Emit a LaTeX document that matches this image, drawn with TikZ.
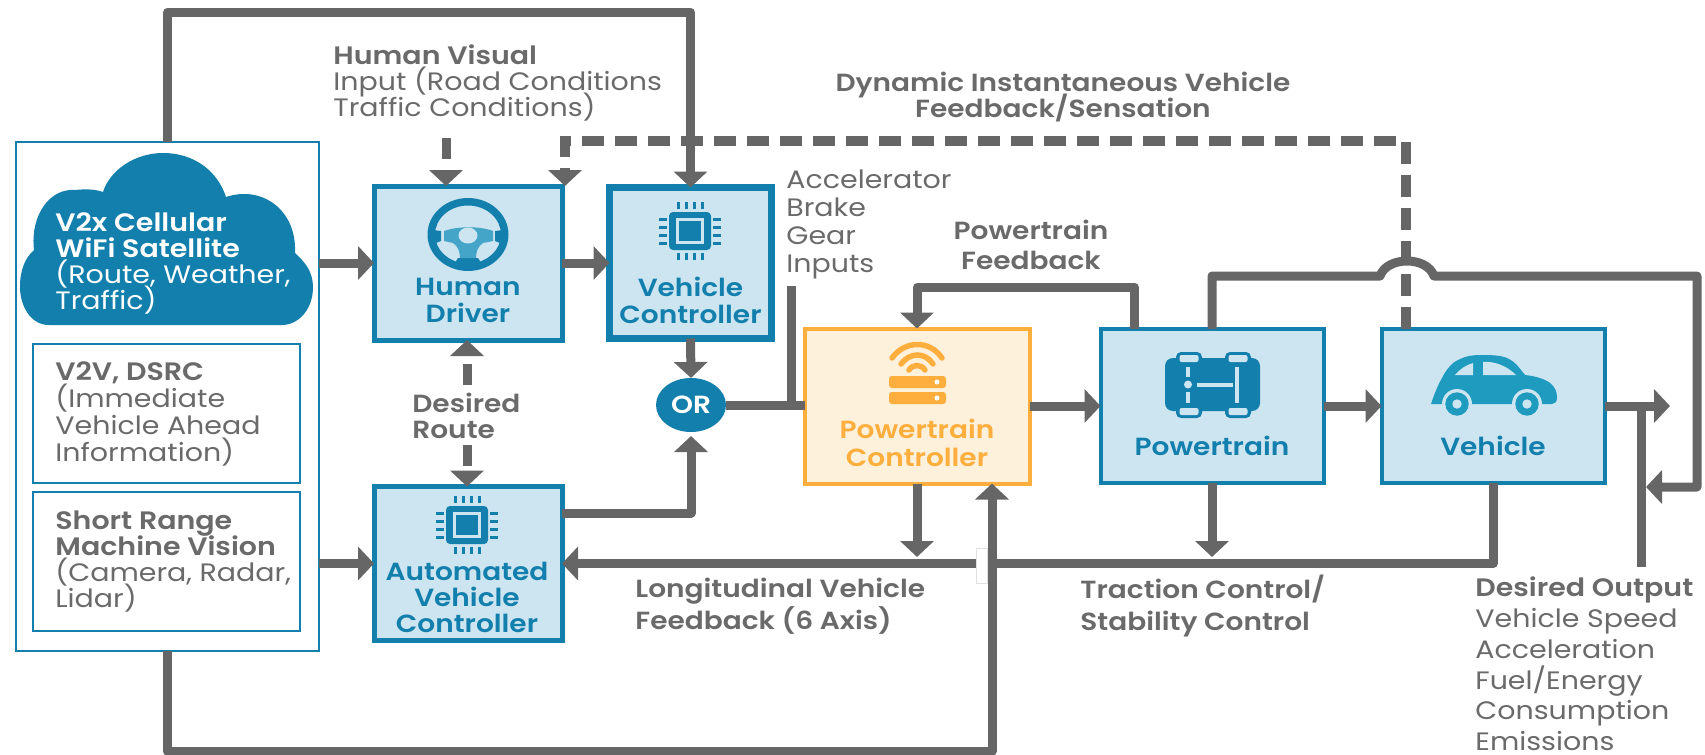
\documentclass[tikz,border=0pt]{standalone}
\usepackage{fontspec}
\setmainfont[BoldFont={Poppins SemiBold},FakeStretch=1.13]{Poppins}
\usetikzlibrary{arrows.meta,shapes.geometric,calc}
\definecolor{tblue}{HTML}{137FAD}
\definecolor{lblue}{HTML}{CDE5F1}
\definecolor{cblue}{HTML}{1F9BC0}
\definecolor{sblue}{HTML}{45A5C8}
\definecolor{torange}{HTML}{FDAE3C}
\definecolor{lorange}{HTML}{FDF1DC}
\definecolor{conn}{HTML}{666666}
\definecolor{txt}{HTML}{6A6A6A}
\newcommand{\ftsz}[2]{\fontsize{#1}{#2}\selectfont\lineskiplimit=-30pt\relax}
\tikzset{
  blk/.style={rectangle,draw=tblue,fill=lblue,inner sep=0pt,outer sep=0pt},
  orb/.style={rectangle,draw=torange,fill=lorange,line width=2pt,inner sep=0pt,outer sep=0pt},
  wbox/.style={rectangle,draw=tblue,fill=white,line width=1.25pt,inner sep=0pt,outer sep=0pt},
  wire/.style={draw=conn,line width=4.5pt,line join=round},
  arr/.style={wire,-{Triangle[length=8pt,width=16.5pt]}},
  stub/.style={arr,dash pattern=on 10.5pt off 30pt},
  dashwire/.style={arr,line width=5pt,line join=miter,dash pattern=on 11pt off 5.5pt},
  lab/.style={font=\ftsz{12.6}{13},text=txt,inner sep=0pt,align=left,anchor=west},
  blab/.style={font=\ftsz{12.4}{13.5}\bfseries,text=tblue,inner sep=0pt,align=center},
  chip/.pic={
    \fill[tblue,rounded corners=2pt] (-21,-19) rectangle (21,19);
    \fill[lblue] (-14,-13) rectangle (14,13);
    \fill[tblue] (-11,-10) rectangle (11,10);
    \foreach \d in {-12,-4,4,12}{
      \fill[tblue] (\d-1.5,-29) rectangle (\d+1.5,-22);
      \fill[tblue] (\d-1.5,22) rectangle (\d+1.5,29);
      \fill[tblue] (-31,\d-1.5) rectangle (-23,\d+1.5);
      \fill[tblue] (23,\d-1.5) rectangle (31,\d+1.5);
    }
  }
}
\begin{document}
\begin{tikzpicture}[x=0.5pt,y=-0.5pt]
\useasboundingbox (0,0) rectangle (1705,755);
% container boxes
\node[wbox,minimum width=151.5pt,minimum height=254.5pt] (outer) at (167.5,396.5) {};
\fill[tblue] (49,325) .. controls (30,325) and (20,305) .. (20,287)
  .. controls (20,270) and (25,258) .. (34,250)
  .. controls (30,215) and (50,188) .. (75,190)
  .. controls (85,189) and (95,189) .. (103,192)
  .. controls (110,170) and (135,153) .. (163,153)
  .. controls (195,153) and (218,172) .. (226,197)
  .. controls (262,185) and (297,210) .. (295,253)
  .. controls (305,262) and (313,272) .. (313,287)
  .. controls (313,310) and (298,325) .. (282,325) -- cycle;
\node[wbox,minimum width=133.5pt,minimum height=69.5pt] (v2v) at (166.5,413.5) {};
\node[wbox,minimum width=133.5pt,minimum height=69.5pt] (sr) at (166.5,561.5) {};
% blocks
\node[blk,line width=2.5pt,minimum width=94pt,minimum height=77pt] (hd) at (468,263) {};
\node[blk,line width=3.5pt,minimum width=81pt,minimum height=75.5pt] (vc) at (690.5,263) {};
\node[blk,line width=2.5pt,minimum width=94pt,minimum height=77pt] (auto) at (468,563.5) {};
\node[orb,minimum width=112.5pt,minimum height=77.5pt] (pc) at (917,406) {};
\node[blk,line width=2pt,minimum width=111.5pt,minimum height=77pt] (pt) at (1212,406) {};
\node[blk,line width=2pt,minimum width=111.5pt,minimum height=77pt] (vh) at (1493,406) {};
\node[ellipse,fill=tblue,minimum width=35pt,minimum height=27pt,inner sep=0pt,outer sep=0pt,text=white,font=\ftsz{12.4}{14}\bfseries] (or) at (691,405) {OR};
% helper coordinates
\coordinate (ytop) at (0,12);
\coordinate (ybot) at (992,751);
\coordinate (hv) at (446,138);
\coordinate (dy) at (0,141);
\coordinate (dx) at (1406,0);
\coordinate (dl) at (565,0);
\coordinate (pfy) at (0,287);
\coordinate (bumpa) at (1380,276);
\coordinate (bumpb) at (1434,276);
\coordinate (rightc) at (1697,487);
\coordinate (tipout) at (1646,487);
\coordinate (feed) at (0,557);
\coordinate (inp) at (791,286);
\coordinate (drup) at (467,385);
\coordinate (drdn) at (467,445);
\coordinate (voutend) at (1670,0);
\coordinate (dsx) at (1641,0);
\coordinate (dsbot) at (1641,567);
\coordinate (gapc) at (981.5,565.5);
% connectors
\draw[dashwire] (dx |- vh.north) |- (dl |- dy) -- (dl |- hd.north);
\draw[arr] (outer.north) |- (vc.north |- ytop) -- (vc.north);
\draw[stub] (hv) -- (hv |- hd.north);
\draw[arr] (outer.east |- hd.west) -- (hd.west);
\draw[arr] (hd.east) -- (vc.west);
\draw[arr] (outer.east |- auto.west) -- (auto.west);
\draw[arr] (vc.south) -- (or.north);
\draw[arr] ([yshift=25.25pt]auto.east) -| ([yshift=-2pt]or.south);
\draw[stub] (drup) -- (drup |- hd.south);
\draw[stub] (drdn) -- (drdn |- auto.north);
\draw[wire] (or.east) -- (or.east -| pc.west);
\draw[wire] (inp) -- (inp |- or.east);
\draw[arr] (pc.east) -- (pt.west);
\draw[arr] (pt.east) -- (vh.west);
\draw[arr] (vh.east) -- (voutend |- vh.east);
\draw[wire] (dsx |- vh.east) -- (dsbot);
\draw[arr] ([xshift=-38.75pt]pt.north) |- (pc.north |- pfy) -- (pc.north);
\draw[wire,-{Triangle[length=8pt,width=16.5pt]}] (pt.north) |- (bumpa) .. controls (1387,256) and (1427,256) .. (bumpb) -| (rightc) -- (tipout);
\draw[arr] (vh.south) |- (auto.east);
\draw[arr] (pc.south) -- (pc.south |- feed);
\draw[arr] (pt.south) -- (pt.south |- feed);
\node[rectangle,draw=black!12,fill=white,line width=0.5pt,minimum width=5.5pt,minimum height=17.5pt,inner sep=0pt] (gapbox) at (gapc) {};
\draw[arr] (outer.south) |- (ybot) -- (ybot |- pc.south);
% icons: steering wheel
\fill[tblue,even odd rule] (468,234.5) ellipse [x radius=40.5,y radius=36.5] (468,234.5) ellipse [x radius=33,y radius=29];
\fill[tblue] (433,230) -- (441,231) -- (441,241) -- (436,243) -- cycle;
\fill[tblue] (503,230) -- (495,231) -- (495,241) -- (500,243) -- cycle;
\fill[tblue] (458,258) -- (478,258) -- (483,266) -- (453,266) -- cycle;
\fill[sblue] (444,231) .. controls (458,226) and (480,226) .. (493,231) -- (493,241) -- (483,243) .. controls (478,246) and (476,252) .. (476,258) -- (460,258) .. controls (460,252) and (458,246) .. (453,243) -- (444,241) -- cycle;
\fill[lblue] (468,235.5) ellipse [x radius=9.5,y radius=8];
% chips
\pic at (690,231) {chip};
\pic at (467,525) {chip};
% wifi server
\begin{scope}[draw=torange,line width=2.75pt,line cap=round]
\draw (892,358) .. controls (905,340) and (930,340) .. (942,358);
\draw (901,364) .. controls (910,352) and (925,352) .. (933,364);
\draw (909,370) .. controls (913,364) and (921,364) .. (925,370);
\end{scope}
\fill[torange,rounded corners=1.5pt] (889,376) rectangle (946,388);
\fill[torange,rounded corners=1.5pt] (889,392) rectangle (946,404);
\fill[white] (937,382) circle [radius=2.5];
\fill[white] (937,398) circle [radius=2.5];
% powertrain icon
\fill[tblue,rounded corners=4pt] (1165,358) rectangle (1260,411);
\foreach \a/\b in {1176/352,1225/352,1176/405,1225/405}{
  \fill[tblue,rounded corners=2.5pt] (\a,\b) rectangle (\a+26,\b+13);
  \fill[lblue,rounded corners=1pt] (\a+3.5,\b+3) rectangle (\a+22.5,\b+10);
}
\fill[lblue] (1186,367) rectangle (1190,377);
\fill[lblue] (1186,392) rectangle (1190,403);
\fill[lblue] (1188,384.5) circle [radius=4];
\fill[lblue] (1235,367) rectangle (1239,403);
\fill[lblue] (1197,382.5) rectangle (1233,386.5);
% car icon
\fill[cblue] (1431,404) .. controls (1435,392) and (1438,385) .. (1442,378)
  .. controls (1446,370) and (1449,367) .. (1453,363)
  .. controls (1462,357) and (1470,355) .. (1480,355)
  .. controls (1490,355) and (1500,355) .. (1507,358)
  .. controls (1516,362) and (1520,369) .. (1525,375)
  .. controls (1535,376) and (1545,379) .. (1550,383)
  .. controls (1555,387) and (1557,392) .. (1557,397)
  .. controls (1557,402) and (1555,404) .. (1552,404) -- cycle;
\fill[lblue] (1455,375) .. controls (1460,369) and (1466,365) .. (1473,363) -- (1473,375) -- cycle;
\fill[lblue] (1483,362) .. controls (1495,361) and (1507,366) .. (1516,375) -- (1483,375) -- cycle;
\foreach \c in {1457,1527}{
  \fill[lblue] (\c,404) circle [radius=15];
  \fill[cblue] (\c,404) circle [radius=11.7];
  \fill[lblue] (\c,404) circle [radius=4.7];
}
% texts
\node[lab,text=white] (tcloud) at (55,263) {\textbf{V2x Cellular}\\\textbf{WiFi Satellite}\\(Route, Weather,\\Traffic)};
\node[lab,font=\ftsz{12.6}{13.5}] (tv2v) at (55,414) {\textbf{V2V, DSRC}\\(Immediate\\Vehicle Ahead\\Information)};
\node[lab] (tsr) at (55,562) {\textbf{Short Range}\\\textbf{Machine Vision}\\(Camera, Radar,\\Lidar)};
\node[lab] (thv) at (333,83) {\textbf{Human Visual}\\Input (Road Conditions\\Traffic Conditions)};
\node[lab,align=center,anchor=center,font=\ftsz{12.4}{13}\bfseries] (tdyn) at (1063,97) {Dynamic Instantaneous Vehicle\\Feedback/Sensation};
\node[lab,font=\ftsz{12.6}{14}] (tacc) at (786,224) {Accelerator\\Brake\\Gear\\Inputs};
\node[lab,align=center,anchor=center,font=\ftsz{12.4}{15}\bfseries] (tpf) at (1031,245) {Powertrain\\Feedback};
\node[lab,font=\ftsz{12.4}{13}\bfseries] (tdr) at (412,416) {Desired\\Route};
\node[lab,font=\ftsz{12.4}{16}\bfseries] (tlon) at (635,606) {Longitudinal Vehicle\\Feedback (6 Axis)};
\node[lab,font=\ftsz{12.4}{16}\bfseries] (ttr) at (1080,606) {Traction Control/\\Stability Control};
\node[lab,font=\ftsz{12.6}{15.4}] (tdo) at (1475,664) {\textbf{Desired Output}\\Vehicle Speed\\Acceleration\\Fuel/Energy\\Consumption\\Emissions};
\node[blab] (thd) at (468,300) {Human\\Driver};
\node[blab] (tvc) at (690.5,300) {Vehicle\\Controller};
\node[blab,font=\ftsz{12.4}{13}\bfseries] (tauto) at (467,597) {Automated\\Vehicle\\Controller};
\node[blab,text=torange,font=\ftsz{12.4}{14}\bfseries] (tpc) at (917,443) {Powertrain\\Controller};
\node[blab] (tpt) at (1212,446) {Powertrain};
\node[blab] (tvh) at (1493,446) {Vehicle};
\end{tikzpicture}
\end{document}
